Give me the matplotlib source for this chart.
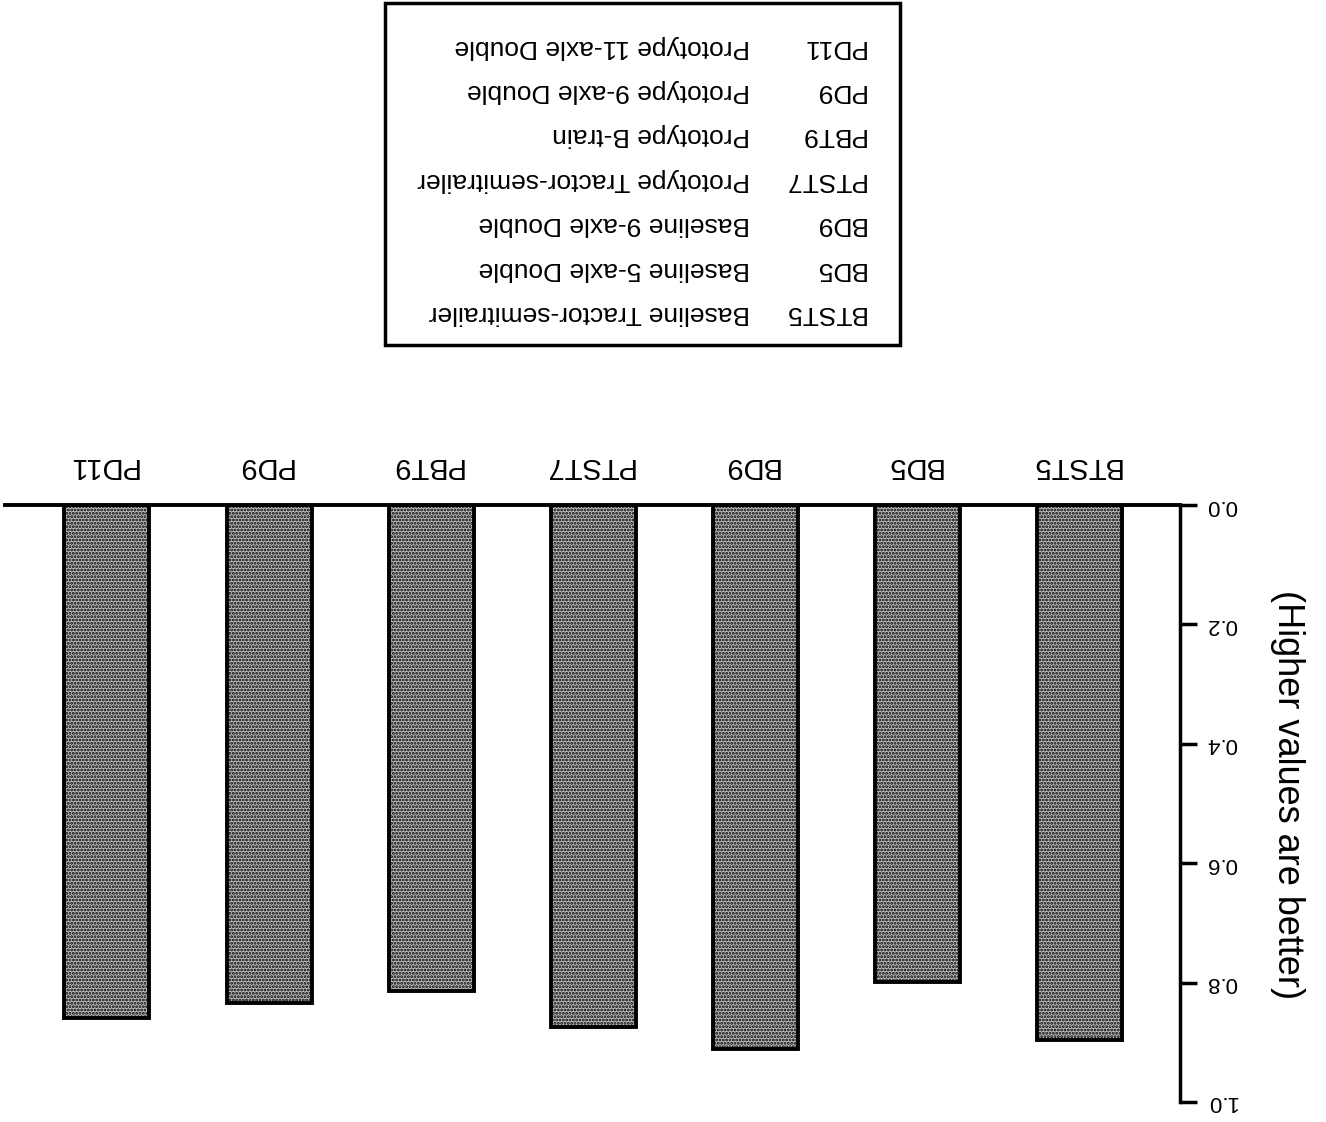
import matplotlib.pyplot as plt

plt.rcParams['font.family'] = ['Liberation Sans', 'DejaVu Sans']
plt.rcParams['hatch.linewidth'] = 1.4

codes = ["BTST5", "BD5", "BD9", "PTST7", "PBT9", "PD9", "PD11"]
names = ["Baseline Tractor-semitrailer", "Baseline 5-axle Double", "Baseline 9-axle Double",
         "Prototype Tractor-semitrailer", "Prototype B-train", "Prototype 9-axle Double",
         "Prototype 11-axle Double"]
values = [0.896, 0.799, 0.911, 0.874, 0.814, 0.834, 0.859]
yticks = [0.0, 0.2, 0.4, 0.6, 0.8, 1.0]
ylabel = "(Higher values are better)"

W, H = 1326, 1122
fig = plt.figure(figsize=(W/100, H/100), dpi=100)
# the scanned page is upside down, so everything is turned by 180 degrees
ax = fig.add_axes([5/W, 1-1102/H, 1175/W, 597/H])

x = list(range(len(codes)))
ax.bar(x, values, width=0.524, facecolor='#bdbdbd', edgecolor='black',
       linewidth=2.8, hatch='.....')

ax.set_xlim(6.628, -0.617)
ax.set_ylim(1.0, 0.0)

for s in ['left', 'bottom']:
    ax.spines[s].set_visible(False)
ax.spines['top'].set_linewidth(2.8)
ax.spines['right'].set_linewidth(2.5)

ax.set_xticks([])
ax.yaxis.tick_right()
ax.set_yticks(yticks)
ax.set_yticklabels([f"{v:.1f}" for v in yticks], rotation=180, fontsize=16, va='center')
ax.tick_params(axis='y', direction='out', length=12, width=2.5, pad=7)

for i, c in enumerate(codes):
    ax.text(i + 0.03, -0.0787, c, rotation=180, rotation_mode='anchor', ha='center',
            va='baseline', fontsize=21, clip_on=False)

fig.text(1288/W, 1-795/H, ylabel, rotation=-90, ha='center', va='center', fontsize=26)

# legend box
box = plt.Rectangle((385/W, 1-345/H), 515/W, 342/H, transform=fig.transFigure,
                    fill=False, edgecolor='black', linewidth=2.5)
fig.patches.append(box)
for k, (c, n) in enumerate(zip(codes, names)):
    yy = 1-(313-44.4*k)/H
    fig.text(865/W, yy, c, rotation=180, rotation_mode='anchor', ha='left',
             va='center', fontsize=19)
    fig.text(750/W, yy, n, rotation=180, rotation_mode='anchor', ha='left',
             va='center', fontsize=19)

fig.savefig("out.png", dpi=100)
